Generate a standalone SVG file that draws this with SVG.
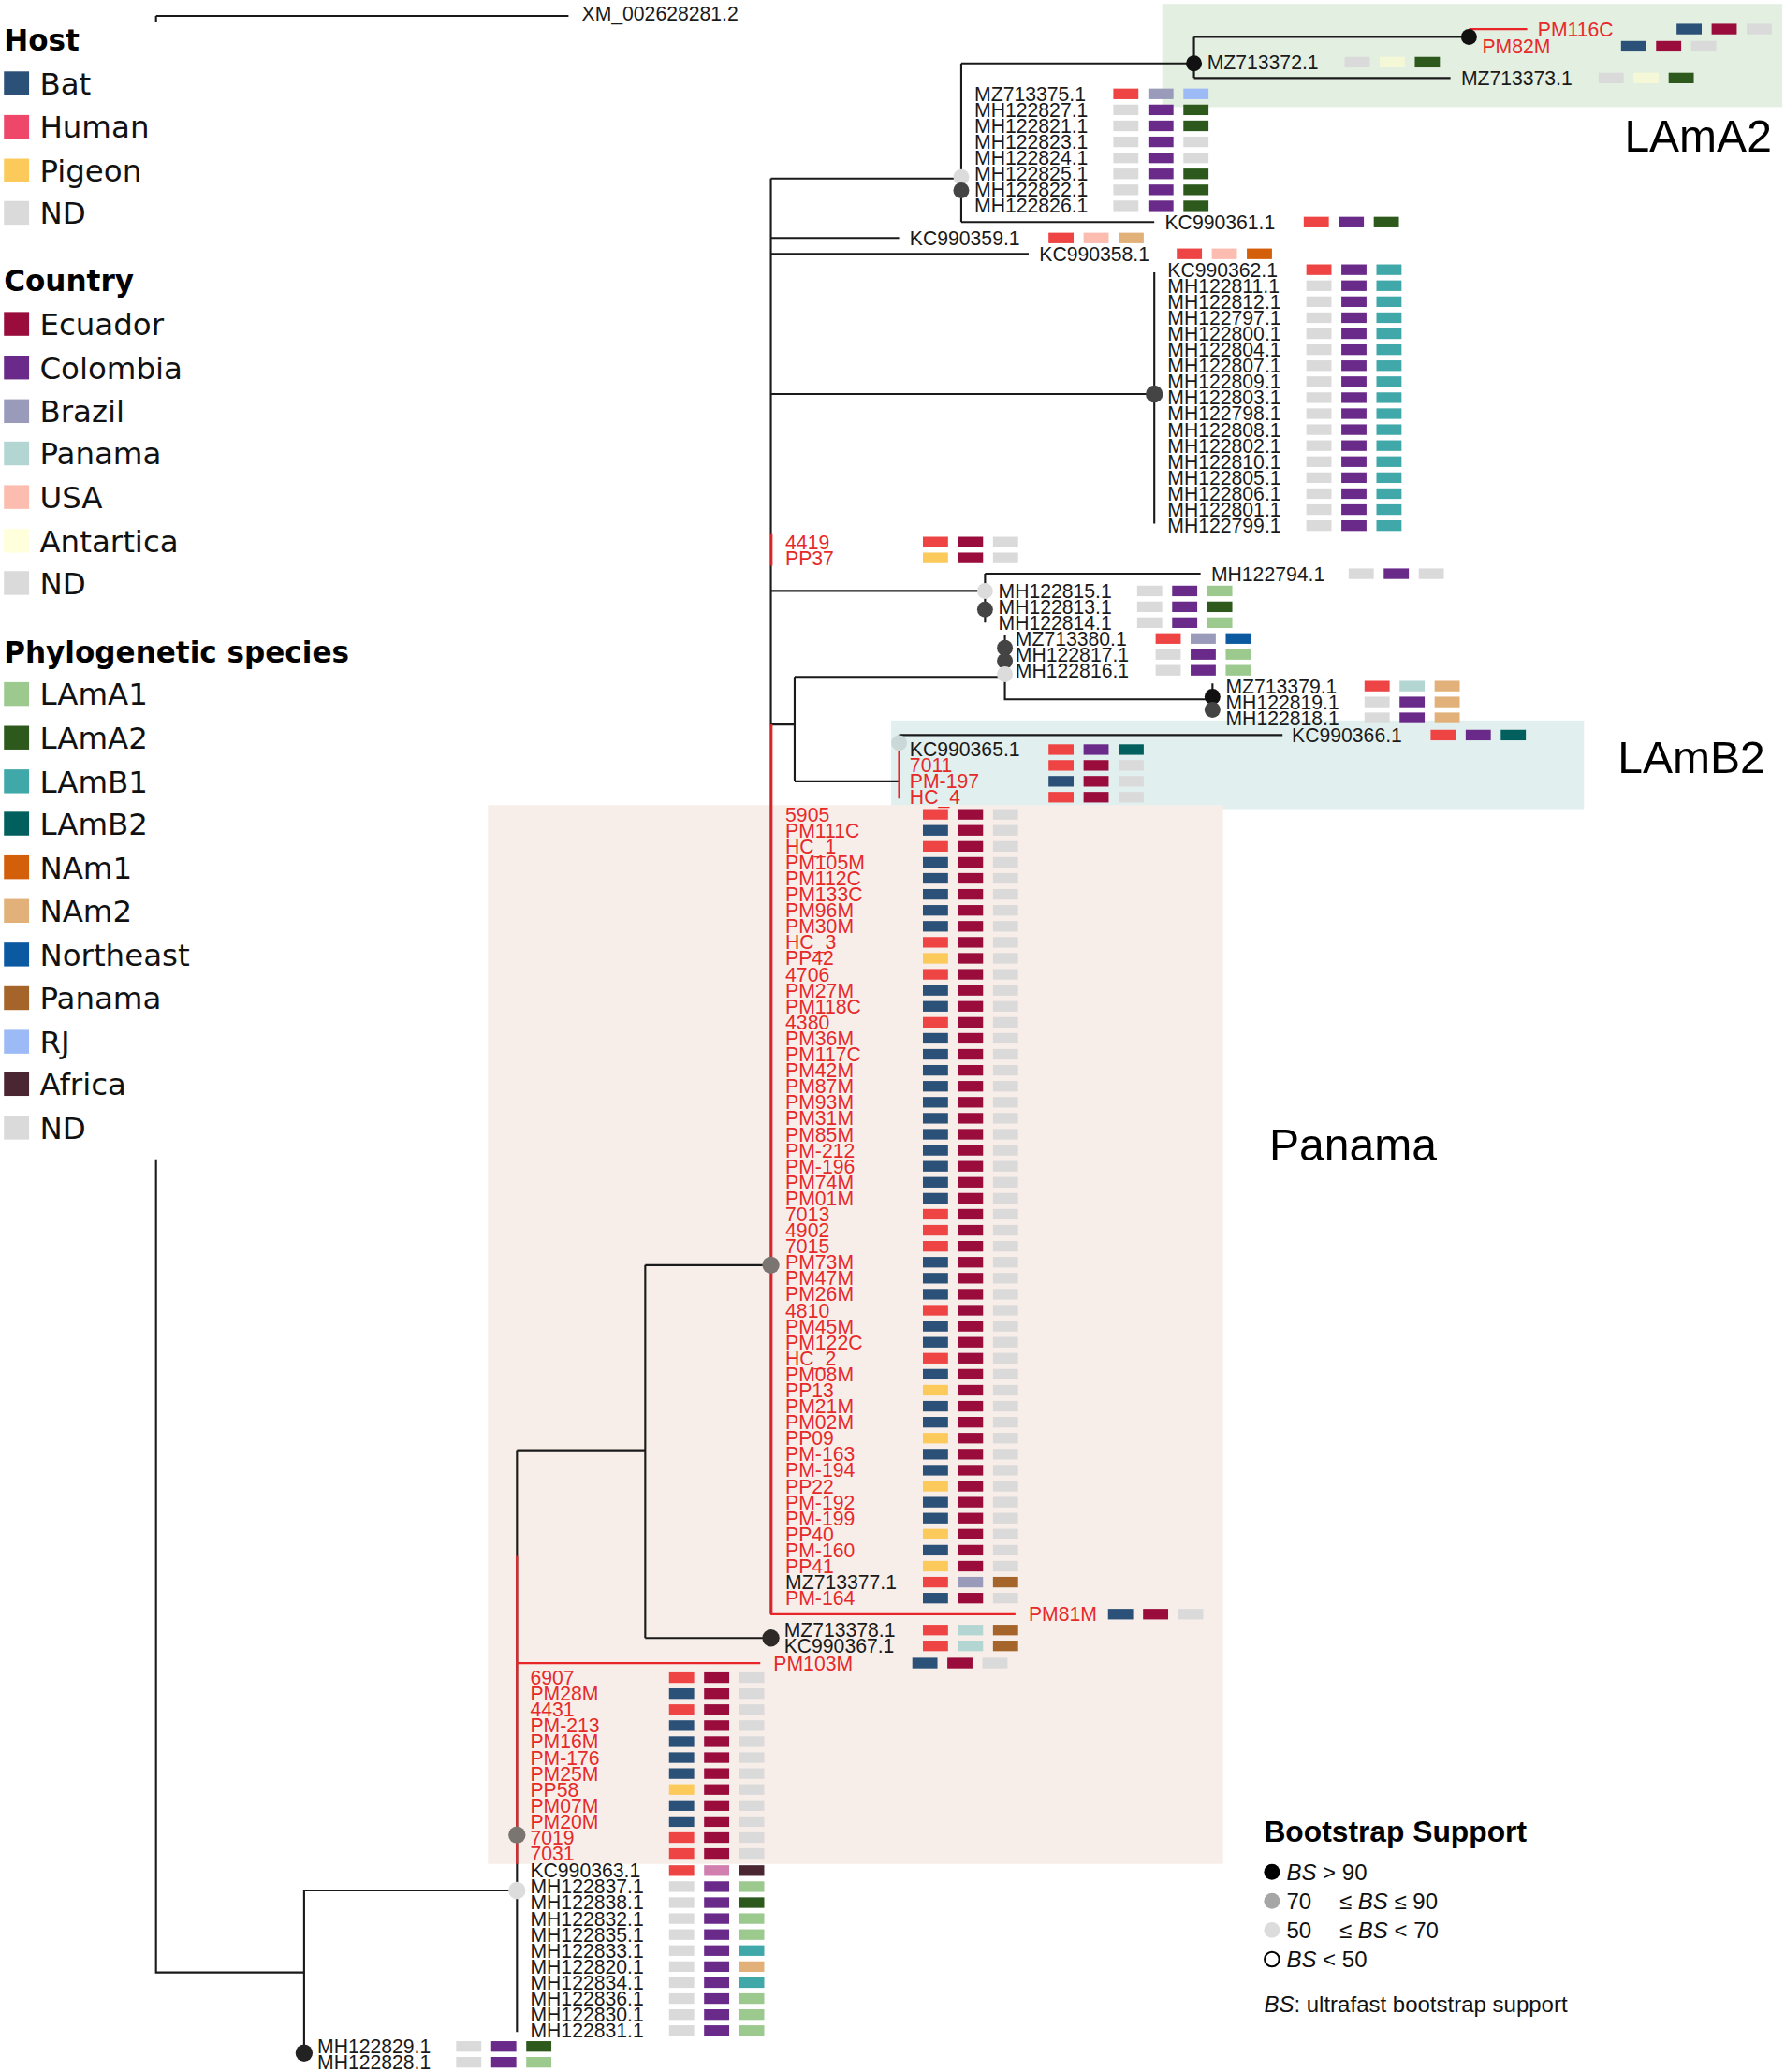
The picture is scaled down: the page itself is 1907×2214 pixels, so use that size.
<svg xmlns="http://www.w3.org/2000/svg" xmlns:xlink="http://www.w3.org/1999/xlink" width="1907" height="2214" viewBox="0 0 1907 2214">
<style>
text{font-family:"Liberation Sans",Arial,sans-serif}
.t{font-size:15px;fill:#1a1a1a}
.r{fill:#e62a2a}
.lh{font-family:"DejaVu Sans",sans-serif;font-size:22px;font-weight:bold;fill:#000}
.lg{font-family:"DejaVu Sans",sans-serif;font-size:23px;fill:#111}
.big{font-size:34px;fill:#000}
.bs{font-size:17px;fill:#111}
.br{fill:none;stroke:#1a1a1a;stroke-width:1.5}
.rb{fill:none;stroke:#e8262a;stroke-width:1.6}
.bat{fill:#2b5178}.hum{fill:#ef4444}.pig{fill:#fcc95b}.nd{fill:#dadada}
.ecu{fill:#990c3c}.col{fill:#6a2a8a}.bra{fill:#9a9bbb}.pan{fill:#b3d6d3}.usa{fill:#fcbcb0}.ant{fill:#f4f8d6}
.a1{fill:#9cc98e}.a2{fill:#2d5a1c}.b1{fill:#40a8a9}.b2{fill:#01605d}.n1{fill:#d35f0a}.n2{fill:#e2b179}
.ne{fill:#0b5aa1}.pa{fill:#a5642a}.rj{fill:#9cbaf6}.af{fill:#4a2633}.pk{fill:#d07fae}
.d0{fill:#111}.d1{fill:#444}.d2{fill:#7a7570}.d3{fill:#dcdcdc}
</style>
<defs><rect id="b" y="-4" width="19" height="8"/><rect id="s" x="3" y="-9" width="19" height="18"/></defs>
<rect width="1907" height="2214" fill="#fff"/>
<g transform="scale(1.41259)">
<g id="highlights">
<rect x="879" y="3" width="469" height="78" fill="#e3efe1"/>
<rect x="674" y="545" width="524" height="67" fill="#e1efee"/>
<rect x="369" y="609" width="556" height="801" fill="#f8eee9"/>
<text class="big" x="1340" y="115" text-anchor="end">LAmA2</text>
<text class="big" x="1335" y="585" text-anchor="end">LAmB2</text>
<text class="big" x="960" y="878">Panama</text>
</g>
<g id="legend">
<text class="lh" x="3" y="38">Host</text>
<g transform="translate(0,63)"><use href="#s" class="bat"/><text class="lg" x="30" y="8.4">Bat</text></g>
<g transform="translate(0,96)"><use href="#s" fill="#ef476a"/><text class="lg" x="30" y="8.4">Human</text></g>
<g transform="translate(0,129)"><use href="#s" class="pig"/><text class="lg" x="30" y="8.4">Pigeon</text></g>
<g transform="translate(0,161)"><use href="#s" class="nd"/><text class="lg" x="30" y="8.4">ND</text></g>
<text class="lh" x="3" y="220">Country</text>
<g transform="translate(0,245)"><use href="#s" class="ecu"/><text class="lg" x="30" y="8.4">Ecuador</text></g>
<g transform="translate(0,278)"><use href="#s" class="col"/><text class="lg" x="30" y="8.4">Colombia</text></g>
<g transform="translate(0,311)"><use href="#s" class="bra"/><text class="lg" x="30" y="8.4">Brazil</text></g>
<g transform="translate(0,343)"><use href="#s" class="pan"/><text class="lg" x="30" y="8.4">Panama</text></g>
<g transform="translate(0,376)"><use href="#s" class="usa"/><text class="lg" x="30" y="8.4">USA</text></g>
<g transform="translate(0,409)"><use href="#s" fill="#ffffdb"/><text class="lg" x="30" y="8.4">Antartica</text></g>
<g transform="translate(0,441)"><use href="#s" class="nd"/><text class="lg" x="30" y="8.4">ND</text></g>
<text class="lh" x="3" y="501">Phylogenetic species</text>
<g transform="translate(0,525)"><use href="#s" class="a1"/><text class="lg" x="30" y="8.4">LAmA1</text></g>
<g transform="translate(0,558)"><use href="#s" class="a2"/><text class="lg" x="30" y="8.4">LAmA2</text></g>
<g transform="translate(0,591)"><use href="#s" class="b1"/><text class="lg" x="30" y="8.4">LAmB1</text></g>
<g transform="translate(0,623)"><use href="#s" class="b2"/><text class="lg" x="30" y="8.4">LAmB2</text></g>
<g transform="translate(0,656)"><use href="#s" class="n1"/><text class="lg" x="30" y="8.4">NAm1</text></g>
<g transform="translate(0,689)"><use href="#s" class="n2"/><text class="lg" x="30" y="8.4">NAm2</text></g>
<g transform="translate(0,722)"><use href="#s" class="ne"/><text class="lg" x="30" y="8.4">Northeast</text></g>
<g transform="translate(0,755)"><use href="#s" class="pa"/><text class="lg" x="30" y="8.4">Panama</text></g>
<g transform="translate(0,788)"><use href="#s" class="rj"/><text class="lg" x="30" y="8.4">RJ</text></g>
<g transform="translate(0,820)"><use href="#s" class="af"/><text class="lg" x="30" y="8.4">Africa</text></g>
<g transform="translate(0,853)"><use href="#s" class="nd"/><text class="lg" x="30" y="8.4">ND</text></g>
</g>
<g id="connectors">
<path class="br" d="M118,12H430M118,12V17M118,877V1492H230M230,1430V1553M230,1430H391M391,1097V1537M391,1097H488M488,957V1239M488,957H583M488,1239H583M583,135V1221M583,135H727M727,48V168M727,48H903M727,168H873M903,28V59M903,28H1111M903,59H1097M583,180H680M583,192H778M583,298H873M873,206V396M583,447H745M745,434V471M745,434H908M583,548H601M601,512V591M601,512H760M760,480V529H917M917,517V541M601,591H680M680,556V568M680,556H970"/>
<path class="rb" d="M1111,22H1155M583.5,404V428M583.5,548V1221H768M680,568V604M391,1177V1410M391,1258H575"/>
</g>
<g id="internal-nodes">
<circle class="d0" cx="903" cy="48" r="6"/>
<circle class="d0" cx="1111" cy="28" r="6"/>
<circle class="d3" cx="727" cy="134" r="6"/>
<circle class="d1" cx="727" cy="144" r="6"/>
<circle class="d1" cx="873" cy="298" r="6.5"/>
<circle class="d3" cx="745" cy="447" r="6"/>
<circle class="d1" cx="745" cy="461" r="6"/>
<circle class="d1" cx="760" cy="490" r="6"/>
<circle class="d1" cx="760" cy="500" r="6"/>
<circle class="d3" cx="760" cy="510" r="6"/>
<circle class="d0" cx="917" cy="527" r="6"/>
<circle class="d1" cx="917" cy="537" r="6"/>
<circle fill="#cbd8d8" cx="680" cy="562" r="6"/>
<circle class="d2" cx="583" cy="957" r="6.5"/>
<circle fill="#2e2a28" cx="583" cy="1239" r="6.5"/>
<circle class="d2" cx="391" cy="1388" r="6.5"/>
<circle class="d3" cx="391" cy="1430" r="6.5"/>
<circle fill="#222" cx="230" cy="1553" r="6.5"/>
</g>
<g id="leaves">
<g id="n-XM_002628281" transform="translate(0,10)"><text class="t" x="440" y="5.3">XM_002628281.2</text></g>
<g id="n-PM116C" transform="translate(0,22)"><text class="t r" x="1163" y="5.3">PM116C</text><use href="#b" x="1268" class="bat"/><use href="#b" x="1294.5" class="ecu"/><use href="#b" x="1321" class="nd"/></g>
<g id="n-PM82M" transform="translate(0,35)"><text class="t r" x="1121" y="5.3">PM82M</text><use href="#b" x="1226" class="bat"/><use href="#b" x="1252.5" class="ecu"/><use href="#b" x="1279" class="nd"/></g>
<g id="n-MZ713372" transform="translate(0,47)"><text class="t" x="913" y="5.3">MZ713372.1</text><use href="#b" x="1017" class="nd"/><use href="#b" x="1043.5" class="ant"/><use href="#b" x="1070" class="a2"/></g>
<g id="n-MZ713373" transform="translate(0,59)"><text class="t" x="1105" y="5.3">MZ713373.1</text><use href="#b" x="1209" class="nd"/><use href="#b" x="1235.5" class="ant"/><use href="#b" x="1262" class="a2"/></g>
<g id="n-MZ713375" transform="translate(0,71)"><text class="t" x="737" y="5.3">MZ713375.1</text><use href="#b" x="842" class="hum"/><use href="#b" x="868.5" class="bra"/><use href="#b" x="895" class="rj"/></g>
<g id="n-MH122827" transform="translate(0,83.1)"><text class="t" x="737" y="5.3">MH122827.1</text><use href="#b" x="842" class="nd"/><use href="#b" x="868.5" class="col"/><use href="#b" x="895" class="a2"/></g>
<g id="n-MH122821" transform="translate(0,95.2)"><text class="t" x="737" y="5.3">MH122821.1</text><use href="#b" x="842" class="nd"/><use href="#b" x="868.5" class="col"/><use href="#b" x="895" class="a2"/></g>
<g id="n-MH122823" transform="translate(0,107.3)"><text class="t" x="737" y="5.3">MH122823.1</text><use href="#b" x="842" class="nd"/><use href="#b" x="868.5" class="col"/><use href="#b" x="895" class="nd"/></g>
<g id="n-MH122824" transform="translate(0,119.4)"><text class="t" x="737" y="5.3">MH122824.1</text><use href="#b" x="842" class="nd"/><use href="#b" x="868.5" class="col"/><use href="#b" x="895" class="nd"/></g>
<g id="n-MH122825" transform="translate(0,131.5)"><text class="t" x="737" y="5.3">MH122825.1</text><use href="#b" x="842" class="nd"/><use href="#b" x="868.5" class="col"/><use href="#b" x="895" class="a2"/></g>
<g id="n-MH122822" transform="translate(0,143.6)"><text class="t" x="737" y="5.3">MH122822.1</text><use href="#b" x="842" class="nd"/><use href="#b" x="868.5" class="col"/><use href="#b" x="895" class="a2"/></g>
<g id="n-MH122826" transform="translate(0,155.7)"><text class="t" x="737" y="5.3">MH122826.1</text><use href="#b" x="842" class="nd"/><use href="#b" x="868.5" class="col"/><use href="#b" x="895" class="a2"/></g>
<g id="n-KC990361" transform="translate(0,168)"><text class="t" x="881" y="5.3">KC990361.1</text><use href="#b" x="986" class="hum"/><use href="#b" x="1012.5" class="col"/><use href="#b" x="1039" class="a2"/></g>
<g id="n-KC990359" transform="translate(0,180)"><text class="t" x="688" y="5.3">KC990359.1</text><use href="#b" x="793" class="hum"/><use href="#b" x="819.5" class="usa"/><use href="#b" x="846" class="n2"/></g>
<g id="n-KC990358" transform="translate(0,192)"><text class="t" x="786" y="5.3">KC990358.1</text><use href="#b" x="890" class="hum"/><use href="#b" x="916.5" class="usa"/><use href="#b" x="943" class="n1"/></g>
<g id="n-KC990362" transform="translate(0,204)"><text class="t" x="883" y="5.3">KC990362.1</text><use href="#b" x="988" class="hum"/><use href="#b" x="1014.5" class="col"/><use href="#b" x="1041" class="b1"/></g>
<g id="n-MH122811" transform="translate(0,216.1)"><text class="t" x="883" y="5.3">MH122811.1</text><use href="#b" x="988" class="nd"/><use href="#b" x="1014.5" class="col"/><use href="#b" x="1041" class="b1"/></g>
<g id="n-MH122812" transform="translate(0,228.2)"><text class="t" x="883" y="5.3">MH122812.1</text><use href="#b" x="988" class="nd"/><use href="#b" x="1014.5" class="col"/><use href="#b" x="1041" class="b1"/></g>
<g id="n-MH122797" transform="translate(0,240.3)"><text class="t" x="883" y="5.3">MH122797.1</text><use href="#b" x="988" class="nd"/><use href="#b" x="1014.5" class="col"/><use href="#b" x="1041" class="b1"/></g>
<g id="n-MH122800" transform="translate(0,252.4)"><text class="t" x="883" y="5.3">MH122800.1</text><use href="#b" x="988" class="nd"/><use href="#b" x="1014.5" class="col"/><use href="#b" x="1041" class="b1"/></g>
<g id="n-MH122804" transform="translate(0,264.5)"><text class="t" x="883" y="5.3">MH122804.1</text><use href="#b" x="988" class="nd"/><use href="#b" x="1014.5" class="col"/><use href="#b" x="1041" class="b1"/></g>
<g id="n-MH122807" transform="translate(0,276.6)"><text class="t" x="883" y="5.3">MH122807.1</text><use href="#b" x="988" class="nd"/><use href="#b" x="1014.5" class="col"/><use href="#b" x="1041" class="b1"/></g>
<g id="n-MH122809" transform="translate(0,288.7)"><text class="t" x="883" y="5.3">MH122809.1</text><use href="#b" x="988" class="nd"/><use href="#b" x="1014.5" class="col"/><use href="#b" x="1041" class="b1"/></g>
<g id="n-MH122803" transform="translate(0,300.8)"><text class="t" x="883" y="5.3">MH122803.1</text><use href="#b" x="988" class="nd"/><use href="#b" x="1014.5" class="col"/><use href="#b" x="1041" class="b1"/></g>
<g id="n-MH122798" transform="translate(0,312.9)"><text class="t" x="883" y="5.3">MH122798.1</text><use href="#b" x="988" class="nd"/><use href="#b" x="1014.5" class="col"/><use href="#b" x="1041" class="b1"/></g>
<g id="n-MH122808" transform="translate(0,325)"><text class="t" x="883" y="5.3">MH122808.1</text><use href="#b" x="988" class="nd"/><use href="#b" x="1014.5" class="col"/><use href="#b" x="1041" class="b1"/></g>
<g id="n-MH122802" transform="translate(0,337.1)"><text class="t" x="883" y="5.3">MH122802.1</text><use href="#b" x="988" class="nd"/><use href="#b" x="1014.5" class="col"/><use href="#b" x="1041" class="b1"/></g>
<g id="n-MH122810" transform="translate(0,349.2)"><text class="t" x="883" y="5.3">MH122810.1</text><use href="#b" x="988" class="nd"/><use href="#b" x="1014.5" class="col"/><use href="#b" x="1041" class="b1"/></g>
<g id="n-MH122805" transform="translate(0,361.3)"><text class="t" x="883" y="5.3">MH122805.1</text><use href="#b" x="988" class="nd"/><use href="#b" x="1014.5" class="col"/><use href="#b" x="1041" class="b1"/></g>
<g id="n-MH122806" transform="translate(0,373.4)"><text class="t" x="883" y="5.3">MH122806.1</text><use href="#b" x="988" class="nd"/><use href="#b" x="1014.5" class="col"/><use href="#b" x="1041" class="b1"/></g>
<g id="n-MH122801" transform="translate(0,385.5)"><text class="t" x="883" y="5.3">MH122801.1</text><use href="#b" x="988" class="nd"/><use href="#b" x="1014.5" class="col"/><use href="#b" x="1041" class="b1"/></g>
<g id="n-MH122799" transform="translate(0,397.6)"><text class="t" x="883" y="5.3">MH122799.1</text><use href="#b" x="988" class="nd"/><use href="#b" x="1014.5" class="col"/><use href="#b" x="1041" class="b1"/></g>
<g id="n-4419" transform="translate(0,410)"><text class="t r" x="594" y="5.3">4419</text><use href="#b" x="698" class="hum"/><use href="#b" x="724.5" class="ecu"/><use href="#b" x="751" class="nd"/></g>
<g id="n-PP37" transform="translate(0,422)"><text class="t r" x="594" y="5.3">PP37</text><use href="#b" x="698" class="pig"/><use href="#b" x="724.5" class="ecu"/><use href="#b" x="751" class="nd"/></g>
<g id="n-MH122794" transform="translate(0,434)"><text class="t" x="916" y="5.3">MH122794.1</text><use href="#b" x="1020" class="nd"/><use href="#b" x="1046.5" class="col"/><use href="#b" x="1073" class="nd"/></g>
<g id="n-MH122815" transform="translate(0,447)"><text class="t" x="755" y="5.3">MH122815.1</text><use href="#b" x="860" class="nd"/><use href="#b" x="886.5" class="col"/><use href="#b" x="913" class="a1"/></g>
<g id="n-MH122813" transform="translate(0,459)"><text class="t" x="755" y="5.3">MH122813.1</text><use href="#b" x="860" class="nd"/><use href="#b" x="886.5" class="col"/><use href="#b" x="913" class="a2"/></g>
<g id="n-MH122814" transform="translate(0,471)"><text class="t" x="755" y="5.3">MH122814.1</text><use href="#b" x="860" class="nd"/><use href="#b" x="886.5" class="col"/><use href="#b" x="913" class="a1"/></g>
<g id="n-MZ713380" transform="translate(0,483)"><text class="t" x="768" y="5.3">MZ713380.1</text><use href="#b" x="874" class="hum"/><use href="#b" x="900.5" class="bra"/><use href="#b" x="927" class="ne"/></g>
<g id="n-MH122817" transform="translate(0,495)"><text class="t" x="768" y="5.3">MH122817.1</text><use href="#b" x="874" class="nd"/><use href="#b" x="900.5" class="col"/><use href="#b" x="927" class="a1"/></g>
<g id="n-MH122816" transform="translate(0,507)"><text class="t" x="768" y="5.3">MH122816.1</text><use href="#b" x="874" class="nd"/><use href="#b" x="900.5" class="col"/><use href="#b" x="927" class="a1"/></g>
<g id="n-MZ713379" transform="translate(0,519)"><text class="t" x="927" y="5.3">MZ713379.1</text><use href="#b" x="1032" class="hum"/><use href="#b" x="1058.5" class="pan"/><use href="#b" x="1085" class="n2"/></g>
<g id="n-MH122819" transform="translate(0,531)"><text class="t" x="927" y="5.3">MH122819.1</text><use href="#b" x="1032" class="nd"/><use href="#b" x="1058.5" class="col"/><use href="#b" x="1085" class="n2"/></g>
<g id="n-MH122818" transform="translate(0,543)"><text class="t" x="927" y="5.3">MH122818.1</text><use href="#b" x="1032" class="nd"/><use href="#b" x="1058.5" class="col"/><use href="#b" x="1085" class="n2"/></g>
<g id="n-KC990366" transform="translate(0,556)"><text class="t" x="977" y="5.3">KC990366.1</text><use href="#b" x="1082" class="hum"/><use href="#b" x="1108.5" class="col"/><use href="#b" x="1135" class="b2"/></g>
<g id="n-KC990365" transform="translate(0,567)"><text class="t" x="688" y="5.3">KC990365.1</text><use href="#b" x="793" class="hum"/><use href="#b" x="819.5" class="col"/><use href="#b" x="846" class="b2"/></g>
<g id="n-7011" transform="translate(0,579)"><text class="t r" x="688" y="5.3">7011</text><use href="#b" x="793" class="hum"/><use href="#b" x="819.5" class="ecu"/><use href="#b" x="846" class="nd"/></g>
<g id="n-PM-197" transform="translate(0,591)"><text class="t r" x="688" y="5.3">PM-197</text><use href="#b" x="793" class="bat"/><use href="#b" x="819.5" class="ecu"/><use href="#b" x="846" class="nd"/></g>
<g id="n-HC_4" transform="translate(0,603)"><text class="t r" x="688" y="5.3">HC_4</text><use href="#b" x="793" class="hum"/><use href="#b" x="819.5" class="ecu"/><use href="#b" x="846" class="nd"/></g>
<g id="n-5905" transform="translate(0,616)"><text class="t r" x="594" y="5.3">5905</text><use href="#b" x="698" class="hum"/><use href="#b" x="724.5" class="ecu"/><use href="#b" x="751" class="nd"/></g>
<g id="n-PM111C" transform="translate(0,628.1)"><text class="t r" x="594" y="5.3">PM111C</text><use href="#b" x="698" class="bat"/><use href="#b" x="724.5" class="ecu"/><use href="#b" x="751" class="nd"/></g>
<g id="n-HC_1" transform="translate(0,640.2)"><text class="t r" x="594" y="5.3">HC_1</text><use href="#b" x="698" class="hum"/><use href="#b" x="724.5" class="ecu"/><use href="#b" x="751" class="nd"/></g>
<g id="n-PM105M" transform="translate(0,652.3)"><text class="t r" x="594" y="5.3">PM105M</text><use href="#b" x="698" class="bat"/><use href="#b" x="724.5" class="ecu"/><use href="#b" x="751" class="nd"/></g>
<g id="n-PM112C" transform="translate(0,664.4)"><text class="t r" x="594" y="5.3">PM112C</text><use href="#b" x="698" class="bat"/><use href="#b" x="724.5" class="ecu"/><use href="#b" x="751" class="nd"/></g>
<g id="n-PM133C" transform="translate(0,676.5)"><text class="t r" x="594" y="5.3">PM133C</text><use href="#b" x="698" class="bat"/><use href="#b" x="724.5" class="ecu"/><use href="#b" x="751" class="nd"/></g>
<g id="n-PM96M" transform="translate(0,688.6)"><text class="t r" x="594" y="5.3">PM96M</text><use href="#b" x="698" class="bat"/><use href="#b" x="724.5" class="ecu"/><use href="#b" x="751" class="nd"/></g>
<g id="n-PM30M" transform="translate(0,700.7)"><text class="t r" x="594" y="5.3">PM30M</text><use href="#b" x="698" class="bat"/><use href="#b" x="724.5" class="ecu"/><use href="#b" x="751" class="nd"/></g>
<g id="n-HC_3" transform="translate(0,712.8)"><text class="t r" x="594" y="5.3">HC_3</text><use href="#b" x="698" class="hum"/><use href="#b" x="724.5" class="ecu"/><use href="#b" x="751" class="nd"/></g>
<g id="n-PP42" transform="translate(0,724.9)"><text class="t r" x="594" y="5.3">PP42</text><use href="#b" x="698" class="pig"/><use href="#b" x="724.5" class="ecu"/><use href="#b" x="751" class="nd"/></g>
<g id="n-4706" transform="translate(0,737)"><text class="t r" x="594" y="5.3">4706</text><use href="#b" x="698" class="hum"/><use href="#b" x="724.5" class="ecu"/><use href="#b" x="751" class="nd"/></g>
<g id="n-PM27M" transform="translate(0,749.1)"><text class="t r" x="594" y="5.3">PM27M</text><use href="#b" x="698" class="bat"/><use href="#b" x="724.5" class="ecu"/><use href="#b" x="751" class="nd"/></g>
<g id="n-PM118C" transform="translate(0,761.2)"><text class="t r" x="594" y="5.3">PM118C</text><use href="#b" x="698" class="bat"/><use href="#b" x="724.5" class="ecu"/><use href="#b" x="751" class="nd"/></g>
<g id="n-4380" transform="translate(0,773.3)"><text class="t r" x="594" y="5.3">4380</text><use href="#b" x="698" class="hum"/><use href="#b" x="724.5" class="ecu"/><use href="#b" x="751" class="nd"/></g>
<g id="n-PM36M" transform="translate(0,785.4)"><text class="t r" x="594" y="5.3">PM36M</text><use href="#b" x="698" class="bat"/><use href="#b" x="724.5" class="ecu"/><use href="#b" x="751" class="nd"/></g>
<g id="n-PM117C" transform="translate(0,797.5)"><text class="t r" x="594" y="5.3">PM117C</text><use href="#b" x="698" class="bat"/><use href="#b" x="724.5" class="ecu"/><use href="#b" x="751" class="nd"/></g>
<g id="n-PM42M" transform="translate(0,809.6)"><text class="t r" x="594" y="5.3">PM42M</text><use href="#b" x="698" class="bat"/><use href="#b" x="724.5" class="ecu"/><use href="#b" x="751" class="nd"/></g>
<g id="n-PM87M" transform="translate(0,821.7)"><text class="t r" x="594" y="5.3">PM87M</text><use href="#b" x="698" class="bat"/><use href="#b" x="724.5" class="ecu"/><use href="#b" x="751" class="nd"/></g>
<g id="n-PM93M" transform="translate(0,833.8)"><text class="t r" x="594" y="5.3">PM93M</text><use href="#b" x="698" class="bat"/><use href="#b" x="724.5" class="ecu"/><use href="#b" x="751" class="nd"/></g>
<g id="n-PM31M" transform="translate(0,845.9)"><text class="t r" x="594" y="5.3">PM31M</text><use href="#b" x="698" class="bat"/><use href="#b" x="724.5" class="ecu"/><use href="#b" x="751" class="nd"/></g>
<g id="n-PM85M" transform="translate(0,858)"><text class="t r" x="594" y="5.3">PM85M</text><use href="#b" x="698" class="bat"/><use href="#b" x="724.5" class="ecu"/><use href="#b" x="751" class="nd"/></g>
<g id="n-PM-212" transform="translate(0,870.1)"><text class="t r" x="594" y="5.3">PM-212</text><use href="#b" x="698" class="bat"/><use href="#b" x="724.5" class="ecu"/><use href="#b" x="751" class="nd"/></g>
<g id="n-PM-196" transform="translate(0,882.2)"><text class="t r" x="594" y="5.3">PM-196</text><use href="#b" x="698" class="bat"/><use href="#b" x="724.5" class="ecu"/><use href="#b" x="751" class="nd"/></g>
<g id="n-PM74M" transform="translate(0,894.3)"><text class="t r" x="594" y="5.3">PM74M</text><use href="#b" x="698" class="bat"/><use href="#b" x="724.5" class="ecu"/><use href="#b" x="751" class="nd"/></g>
<g id="n-PM01M" transform="translate(0,906.4)"><text class="t r" x="594" y="5.3">PM01M</text><use href="#b" x="698" class="bat"/><use href="#b" x="724.5" class="ecu"/><use href="#b" x="751" class="nd"/></g>
<g id="n-7013" transform="translate(0,918.5)"><text class="t r" x="594" y="5.3">7013</text><use href="#b" x="698" class="hum"/><use href="#b" x="724.5" class="ecu"/><use href="#b" x="751" class="nd"/></g>
<g id="n-4902" transform="translate(0,930.6)"><text class="t r" x="594" y="5.3">4902</text><use href="#b" x="698" class="hum"/><use href="#b" x="724.5" class="ecu"/><use href="#b" x="751" class="nd"/></g>
<g id="n-7015" transform="translate(0,942.7)"><text class="t r" x="594" y="5.3">7015</text><use href="#b" x="698" class="hum"/><use href="#b" x="724.5" class="ecu"/><use href="#b" x="751" class="nd"/></g>
<g id="n-PM73M" transform="translate(0,954.8)"><text class="t r" x="594" y="5.3">PM73M</text><use href="#b" x="698" class="bat"/><use href="#b" x="724.5" class="ecu"/><use href="#b" x="751" class="nd"/></g>
<g id="n-PM47M" transform="translate(0,966.9)"><text class="t r" x="594" y="5.3">PM47M</text><use href="#b" x="698" class="bat"/><use href="#b" x="724.5" class="ecu"/><use href="#b" x="751" class="nd"/></g>
<g id="n-PM26M" transform="translate(0,979)"><text class="t r" x="594" y="5.3">PM26M</text><use href="#b" x="698" class="bat"/><use href="#b" x="724.5" class="ecu"/><use href="#b" x="751" class="nd"/></g>
<g id="n-4810" transform="translate(0,991.1)"><text class="t r" x="594" y="5.3">4810</text><use href="#b" x="698" class="hum"/><use href="#b" x="724.5" class="ecu"/><use href="#b" x="751" class="nd"/></g>
<g id="n-PM45M" transform="translate(0,1003.2)"><text class="t r" x="594" y="5.3">PM45M</text><use href="#b" x="698" class="bat"/><use href="#b" x="724.5" class="ecu"/><use href="#b" x="751" class="nd"/></g>
<g id="n-PM122C" transform="translate(0,1015.3)"><text class="t r" x="594" y="5.3">PM122C</text><use href="#b" x="698" class="bat"/><use href="#b" x="724.5" class="ecu"/><use href="#b" x="751" class="nd"/></g>
<g id="n-HC_2" transform="translate(0,1027.4)"><text class="t r" x="594" y="5.3">HC_2</text><use href="#b" x="698" class="hum"/><use href="#b" x="724.5" class="ecu"/><use href="#b" x="751" class="nd"/></g>
<g id="n-PM08M" transform="translate(0,1039.5)"><text class="t r" x="594" y="5.3">PM08M</text><use href="#b" x="698" class="bat"/><use href="#b" x="724.5" class="ecu"/><use href="#b" x="751" class="nd"/></g>
<g id="n-PP13" transform="translate(0,1051.6)"><text class="t r" x="594" y="5.3">PP13</text><use href="#b" x="698" class="pig"/><use href="#b" x="724.5" class="ecu"/><use href="#b" x="751" class="nd"/></g>
<g id="n-PM21M" transform="translate(0,1063.7)"><text class="t r" x="594" y="5.3">PM21M</text><use href="#b" x="698" class="bat"/><use href="#b" x="724.5" class="ecu"/><use href="#b" x="751" class="nd"/></g>
<g id="n-PM02M" transform="translate(0,1075.8)"><text class="t r" x="594" y="5.3">PM02M</text><use href="#b" x="698" class="bat"/><use href="#b" x="724.5" class="ecu"/><use href="#b" x="751" class="nd"/></g>
<g id="n-PP09" transform="translate(0,1087.9)"><text class="t r" x="594" y="5.3">PP09</text><use href="#b" x="698" class="pig"/><use href="#b" x="724.5" class="ecu"/><use href="#b" x="751" class="nd"/></g>
<g id="n-PM-163" transform="translate(0,1100)"><text class="t r" x="594" y="5.3">PM-163</text><use href="#b" x="698" class="bat"/><use href="#b" x="724.5" class="ecu"/><use href="#b" x="751" class="nd"/></g>
<g id="n-PM-194" transform="translate(0,1112.1)"><text class="t r" x="594" y="5.3">PM-194</text><use href="#b" x="698" class="bat"/><use href="#b" x="724.5" class="ecu"/><use href="#b" x="751" class="nd"/></g>
<g id="n-PP22" transform="translate(0,1124.2)"><text class="t r" x="594" y="5.3">PP22</text><use href="#b" x="698" class="pig"/><use href="#b" x="724.5" class="ecu"/><use href="#b" x="751" class="nd"/></g>
<g id="n-PM-192" transform="translate(0,1136.3)"><text class="t r" x="594" y="5.3">PM-192</text><use href="#b" x="698" class="bat"/><use href="#b" x="724.5" class="ecu"/><use href="#b" x="751" class="nd"/></g>
<g id="n-PM-199" transform="translate(0,1148.4)"><text class="t r" x="594" y="5.3">PM-199</text><use href="#b" x="698" class="bat"/><use href="#b" x="724.5" class="ecu"/><use href="#b" x="751" class="nd"/></g>
<g id="n-PP40" transform="translate(0,1160.5)"><text class="t r" x="594" y="5.3">PP40</text><use href="#b" x="698" class="pig"/><use href="#b" x="724.5" class="ecu"/><use href="#b" x="751" class="nd"/></g>
<g id="n-PM-160" transform="translate(0,1172.6)"><text class="t r" x="594" y="5.3">PM-160</text><use href="#b" x="698" class="bat"/><use href="#b" x="724.5" class="ecu"/><use href="#b" x="751" class="nd"/></g>
<g id="n-PP41" transform="translate(0,1184.7)"><text class="t r" x="594" y="5.3">PP41</text><use href="#b" x="698" class="pig"/><use href="#b" x="724.5" class="ecu"/><use href="#b" x="751" class="nd"/></g>
<g id="n-MZ713377" transform="translate(0,1196.8)"><text class="t" x="594" y="5.3">MZ713377.1</text><use href="#b" x="698" class="hum"/><use href="#b" x="724.5" class="bra"/><use href="#b" x="751" class="pa"/></g>
<g id="n-PM-164" transform="translate(0,1208.9)"><text class="t r" x="594" y="5.3">PM-164</text><use href="#b" x="698" class="bat"/><use href="#b" x="724.5" class="ecu"/><use href="#b" x="751" class="nd"/></g>
<g id="n-PM81M" transform="translate(0,1221)"><text class="t r" x="778" y="5.3">PM81M</text><use href="#b" x="838" class="bat"/><use href="#b" x="864.5" class="ecu"/><use href="#b" x="891" class="nd"/></g>
<g id="n-MZ713378" transform="translate(0,1233)"><text class="t" x="593" y="5.3">MZ713378.1</text><use href="#b" x="698" class="hum"/><use href="#b" x="724.5" class="pan"/><use href="#b" x="751" class="pa"/></g>
<g id="n-KC990367" transform="translate(0,1245)"><text class="t" x="593" y="5.3">KC990367.1</text><use href="#b" x="698" class="hum"/><use href="#b" x="724.5" class="pan"/><use href="#b" x="751" class="pa"/></g>
<g id="n-PM103M" transform="translate(0,1258)"><text class="t r" x="585" y="5.3">PM103M</text><use href="#b" x="690" class="bat"/><use href="#b" x="716.5" class="ecu"/><use href="#b" x="743" class="nd"/></g>
<g id="n-6907" transform="translate(0,1269)"><text class="t r" x="401" y="5.3">6907</text><use href="#b" x="506" class="hum"/><use href="#b" x="532.5" class="ecu"/><use href="#b" x="559" class="nd"/></g>
<g id="n-PM28M" transform="translate(0,1281.1)"><text class="t r" x="401" y="5.3">PM28M</text><use href="#b" x="506" class="bat"/><use href="#b" x="532.5" class="ecu"/><use href="#b" x="559" class="nd"/></g>
<g id="n-4431" transform="translate(0,1293.2)"><text class="t r" x="401" y="5.3">4431</text><use href="#b" x="506" class="hum"/><use href="#b" x="532.5" class="ecu"/><use href="#b" x="559" class="nd"/></g>
<g id="n-PM-213" transform="translate(0,1305.3)"><text class="t r" x="401" y="5.3">PM-213</text><use href="#b" x="506" class="bat"/><use href="#b" x="532.5" class="ecu"/><use href="#b" x="559" class="nd"/></g>
<g id="n-PM16M" transform="translate(0,1317.4)"><text class="t r" x="401" y="5.3">PM16M</text><use href="#b" x="506" class="bat"/><use href="#b" x="532.5" class="ecu"/><use href="#b" x="559" class="nd"/></g>
<g id="n-PM-176" transform="translate(0,1329.5)"><text class="t r" x="401" y="5.3">PM-176</text><use href="#b" x="506" class="bat"/><use href="#b" x="532.5" class="ecu"/><use href="#b" x="559" class="nd"/></g>
<g id="n-PM25M" transform="translate(0,1341.6)"><text class="t r" x="401" y="5.3">PM25M</text><use href="#b" x="506" class="bat"/><use href="#b" x="532.5" class="ecu"/><use href="#b" x="559" class="nd"/></g>
<g id="n-PP58" transform="translate(0,1353.7)"><text class="t r" x="401" y="5.3">PP58</text><use href="#b" x="506" class="pig"/><use href="#b" x="532.5" class="ecu"/><use href="#b" x="559" class="nd"/></g>
<g id="n-PM07M" transform="translate(0,1365.8)"><text class="t r" x="401" y="5.3">PM07M</text><use href="#b" x="506" class="bat"/><use href="#b" x="532.5" class="ecu"/><use href="#b" x="559" class="nd"/></g>
<g id="n-PM20M" transform="translate(0,1377.9)"><text class="t r" x="401" y="5.3">PM20M</text><use href="#b" x="506" class="bat"/><use href="#b" x="532.5" class="ecu"/><use href="#b" x="559" class="nd"/></g>
<g id="n-7019" transform="translate(0,1390)"><text class="t r" x="401" y="5.3">7019</text><use href="#b" x="506" class="hum"/><use href="#b" x="532.5" class="ecu"/><use href="#b" x="559" class="nd"/></g>
<g id="n-7031" transform="translate(0,1402.1)"><text class="t r" x="401" y="5.3">7031</text><use href="#b" x="506" class="hum"/><use href="#b" x="532.5" class="ecu"/><use href="#b" x="559" class="nd"/></g>
<g id="n-KC990363" transform="translate(0,1415)"><text class="t" x="401" y="5.3">KC990363.1</text><use href="#b" x="506" class="hum"/><use href="#b" x="532.5" class="pk"/><use href="#b" x="559" class="af"/></g>
<g id="n-MH122837" transform="translate(0,1427.1)"><text class="t" x="401" y="5.3">MH122837.1</text><use href="#b" x="506" class="nd"/><use href="#b" x="532.5" class="col"/><use href="#b" x="559" class="a1"/></g>
<g id="n-MH122838" transform="translate(0,1439.2)"><text class="t" x="401" y="5.3">MH122838.1</text><use href="#b" x="506" class="nd"/><use href="#b" x="532.5" class="col"/><use href="#b" x="559" class="a2"/></g>
<g id="n-MH122832" transform="translate(0,1451.3)"><text class="t" x="401" y="5.3">MH122832.1</text><use href="#b" x="506" class="nd"/><use href="#b" x="532.5" class="col"/><use href="#b" x="559" class="a1"/></g>
<g id="n-MH122835" transform="translate(0,1463.4)"><text class="t" x="401" y="5.3">MH122835.1</text><use href="#b" x="506" class="nd"/><use href="#b" x="532.5" class="col"/><use href="#b" x="559" class="a1"/></g>
<g id="n-MH122833" transform="translate(0,1475.5)"><text class="t" x="401" y="5.3">MH122833.1</text><use href="#b" x="506" class="nd"/><use href="#b" x="532.5" class="col"/><use href="#b" x="559" class="b1"/></g>
<g id="n-MH122820" transform="translate(0,1487.6)"><text class="t" x="401" y="5.3">MH122820.1</text><use href="#b" x="506" class="nd"/><use href="#b" x="532.5" class="col"/><use href="#b" x="559" class="n2"/></g>
<g id="n-MH122834" transform="translate(0,1499.7)"><text class="t" x="401" y="5.3">MH122834.1</text><use href="#b" x="506" class="nd"/><use href="#b" x="532.5" class="col"/><use href="#b" x="559" class="b1"/></g>
<g id="n-MH122836" transform="translate(0,1511.8)"><text class="t" x="401" y="5.3">MH122836.1</text><use href="#b" x="506" class="nd"/><use href="#b" x="532.5" class="col"/><use href="#b" x="559" class="a1"/></g>
<g id="n-MH122830" transform="translate(0,1523.9)"><text class="t" x="401" y="5.3">MH122830.1</text><use href="#b" x="506" class="nd"/><use href="#b" x="532.5" class="col"/><use href="#b" x="559" class="a1"/></g>
<g id="n-MH122831" transform="translate(0,1536)"><text class="t" x="401" y="5.3">MH122831.1</text><use href="#b" x="506" class="nd"/><use href="#b" x="532.5" class="col"/><use href="#b" x="559" class="a1"/></g>
<g id="n-MH122829" transform="translate(0,1548)"><text class="t" x="240" y="5.3">MH122829.1</text><use href="#b" x="345" class="nd"/><use href="#b" x="371.5" class="col"/><use href="#b" x="398" class="a2"/></g>
<g id="n-MH122828" transform="translate(0,1560)"><text class="t" x="240" y="5.3">MH122828.1</text><use href="#b" x="345" class="nd"/><use href="#b" x="371.5" class="col"/><use href="#b" x="398" class="a1"/></g>
</g>
<g id="bootstrap-legend">
<text x="956" y="1393" font-size="22.5" font-weight="bold" fill="#000">Bootstrap Support</text>
<circle cx="962" cy="1416" r="6" fill="#000"/>
<text class="bs" x="973" y="1422"><tspan font-style="italic">BS</tspan> &gt; 90</text>
<circle cx="962" cy="1438" r="6" fill="#a6a6a6"/>
<text class="bs" x="973" y="1444">70</text>
<text class="bs" x="1013" y="1444">≤ <tspan font-style="italic">BS</tspan> ≤ 90</text>
<circle cx="962" cy="1460" r="6" fill="#dcdcdc"/>
<text class="bs" x="973" y="1466">50</text>
<text class="bs" x="1013" y="1466">≤ <tspan font-style="italic">BS</tspan> &lt; 70</text>
<circle cx="962" cy="1482" r="5.5" fill="#fff" stroke="#000" stroke-width="1.5"/>
<text class="bs" x="973" y="1488"><tspan font-style="italic">BS</tspan> &lt; 50</text>
<text class="bs" x="956" y="1522"><tspan font-style="italic">BS</tspan>: ultrafast bootstrap support</text>
</g>
</g>
</svg>
